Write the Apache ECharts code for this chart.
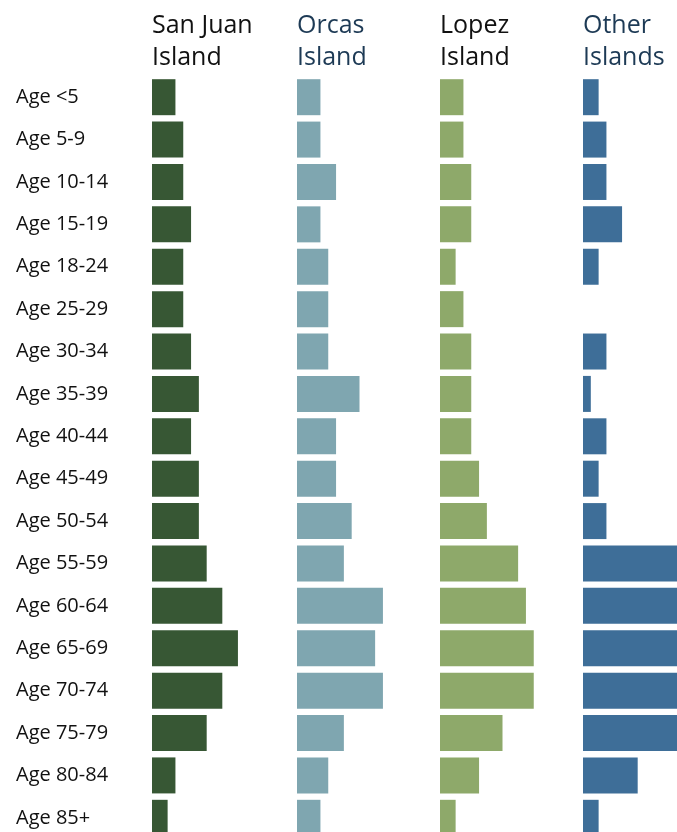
<!DOCTYPE html>
<html>
<head>
<meta charset="utf-8">
<script src="https://cdn.jsdelivr.net/npm/echarts@6/dist/echarts.min.js"></script>
<style>
  html, body { margin: 0; padding: 0; background: #fff; }
  #main { width: 677px; height: 832px; }
</style>
</head>
<body>
<div id="main"></div>
<script>
// age groups, top to bottom
var ageGroups = ['Age <5', 'Age 5-9', 'Age 10-14', 'Age 15-19', 'Age 18-24', 'Age 25-29',
  'Age 30-34', 'Age 35-39', 'Age 40-44', 'Age 45-49', 'Age 50-54', 'Age 55-59',
  'Age 60-64', 'Age 65-69', 'Age 70-74', 'Age 75-79', 'Age 80-84', 'Age 85+'];

var islandNames = ['San Juan\nIsland', 'Orcas\nIsland', 'Lopez\nIsland', 'Other\nIslands'];

// values per island (same order as ageGroups)
var sanJuan = [3, 4, 4, 5, 4, 4, 5, 6, 5, 6, 6, 7, 9, 11, 9, 7, 3, 2];
var orcas   = [3, 3, 5, 3, 4, 4, 4, 8, 5, 5, 7, 6, 11, 10, 11, 6, 4, 3];
var lopez   = [3, 3, 4, 4, 2, 3, 4, 4, 4, 5, 6, 10, 11, 12, 12, 8, 5, 2];
var other   = [2, 3, 3, 5, 2, 0, 3, 1, 3, 2, 3, 13, 15, 16, 15, 13, 7, 2];

var allSeries = [sanJuan, orcas, lopez, other];
var barColors = ['#375734', '#7fa6b0', '#8ea96a', '#3e6e98'];
var titleColors = ['#111111', '#1d3a55', '#111111', '#1d3a55'];
var colLeft = [152, 297, 440, 583];

var myChart = echarts.init(document.getElementById('main'));

var grids = [], xAxes = [], yAxes = [], series = [], titles = [];
for (var i = 0; i < 4; i++) {
    // grids run past the page edge (right and bottom), like the original
    grids.push({ left: colLeft[i], top: 76, width: 125, height: 763, outerBoundsMode: 'none' });
    xAxes.push({
        type: 'value', gridIndex: i, min: 0, max: 16,
        show: false
    });
    yAxes.push({
        type: 'category', gridIndex: i, data: ageGroups, inverse: true,
        axisLine: { show: false }, axisTick: { show: false }, splitLine: { show: false },
        axisLabel: {
            show: i === 0,
            align: 'left',
            margin: 136,
            fontFamily: 'Open Sans',
            fontSize: 20,
            color: '#111'
        }
    });
    series.push({
        type: 'bar', xAxisIndex: i, yAxisIndex: i,
        data: allSeries[i],
        barWidth: 36,
        itemStyle: { color: barColors[i] },
        silent: true
    });
    titles.push({
        text: islandNames[i],
        left: colLeft[i] - 5,
        top: 5,
        textStyle: {
            fontFamily: 'Open Sans',
            fontWeight: 'normal',
            fontSize: 25,
            lineHeight: 32,
            color: titleColors[i]
        }
    });
}

var option = {
    backgroundColor: '#fff',
    animation: false,
    title: titles,
    grid: grids,
    xAxis: xAxes,
    yAxis: yAxes,
    series: series
};

myChart.setOption(option, true);
</script>
</body>
</html>
